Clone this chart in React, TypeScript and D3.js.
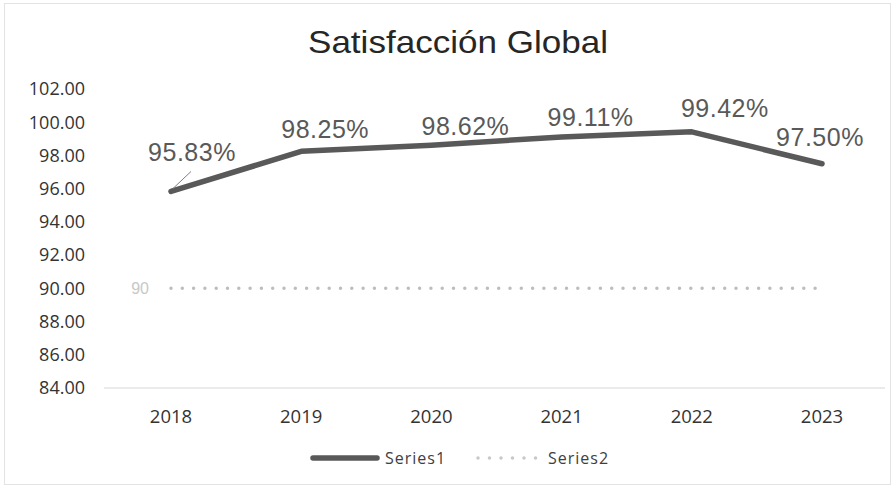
import React from "react";
import * as d3 from "d3";

const years = ["2018", "2019", "2020", "2021", "2022", "2023"];
const series1 = [95.83, 98.25, 98.62, 99.11, 99.42, 97.5];
const series2 = [90, 90, 90, 90, 90, 90];
const yTicks = [84, 86, 88, 90, 92, 94, 96, 98, 100, 102];
const labelOffsets = [
  [21, -39],
  [24, -22],
  [34, -19],
  [29, -20],
  [33, -24],
  [-2, -27],
];

const W = 894;
const H = 487;

export default function App() {
  const x = d3.scalePoint<string>().domain(years).range([171, 822]);
  const y = d3.scaleLinear().domain([84, 102]).range([388, 89]);
  const line1 = d3
    .line<number>()
    .x((_, i) => x(years[i])!)
    .y((d) => y(d));
  const tickFont = "'Open Sans', sans-serif";
  const labelFont = "'Liberation Sans', Arial, sans-serif";
  const p0x = x(years[0])!;
  const p0y = y(series1[0]);
  return (
    <div style={{ position: "absolute", left: 0, top: 0 }}>
      <svg width={W} height={H} style={{ display: "block", background: "#fff" }}>
        <rect x={4.5} y={3.5} width={W - 8} height={H - 6} fill="none" stroke="#e3e3e3" />
        <text
          x={308}
          y={53}
          fontFamily={labelFont}
          fontSize={32}
          fill="#262626"
          textLength={300}
          lengthAdjust="spacingAndGlyphs"
        >
          Satisfacción Global
        </text>
        {yTicks.map((t) => (
          <text
            key={t}
            x={85}
            y={y(t)}
            dy="0.35em"
            textAnchor="end"
            fontFamily={tickFont}
            fontSize={18}
            fill="#333"
          >
            {t.toFixed(2)}
          </text>
        ))}
        <line x1={104} x2={885} y1={y(84)} y2={y(84)} stroke="#d6d6d6" strokeWidth={1} />
        {years.map((yr) => (
          <text
            key={yr}
            x={x(yr)!}
            y={y(84) + 29}
            dy="0.35em"
            textAnchor="middle"
            fontFamily={tickFont}
            fontSize={18.5}
            fill="#333"
          >
            {yr}
          </text>
        ))}
        <path
          d={line1(series2) || ""}
          fill="none"
          stroke="#bdbdbd"
          strokeWidth={3.5}
          strokeLinecap="round"
          strokeDasharray="0 11.3"
        />
        <text
          x={p0x - 22}
          y={y(series2[0])}
          dy="0.35em"
          textAnchor="end"
          fontFamily={labelFont}
          fontSize={16}
          fill="#c8c8c8"
        >
          {series2[0]}
        </text>
        <path
          d={line1(series1) || ""}
          fill="none"
          stroke="#595959"
          strokeWidth={5.5}
          strokeLinejoin="round"
          strokeLinecap="round"
        />
        <line x1={p0x + 20} y1={p0y - 20} x2={p0x + 2} y2={p0y - 3} stroke="#7f7f7f" strokeWidth={1} />
        {series1.map((v, i) => (
          <text
            key={i}
            x={x(years[i])! + labelOffsets[i][0]}
            y={y(v) + labelOffsets[i][1]}
            dy="0.35em"
            textAnchor="middle"
            fontFamily={labelFont}
            fontSize={25}
            fill="#595959"
            letterSpacing={0.5}
          >
            {v.toFixed(2)}%
          </text>
        ))}
        <line x1={313} x2={377} y1={458} y2={458} stroke="#595959" strokeWidth={5.5} strokeLinecap="round" />
        <text x={385} y={458} dy="0.35em" fontFamily={tickFont} fontSize={16} fill="#404040" letterSpacing={1}>
          Series1
        </text>
        <line
          x1={478}
          x2={536}
          y1={458}
          y2={458}
          stroke="#c8c8c8"
          strokeWidth={3.5}
          strokeLinecap="round"
          strokeDasharray="0 11.5"
        />
        <text x={548} y={458} dy="0.35em" fontFamily={tickFont} fontSize={16} fill="#404040" letterSpacing={1}>
          Series2
        </text>
      </svg>
    </div>
  );
}
